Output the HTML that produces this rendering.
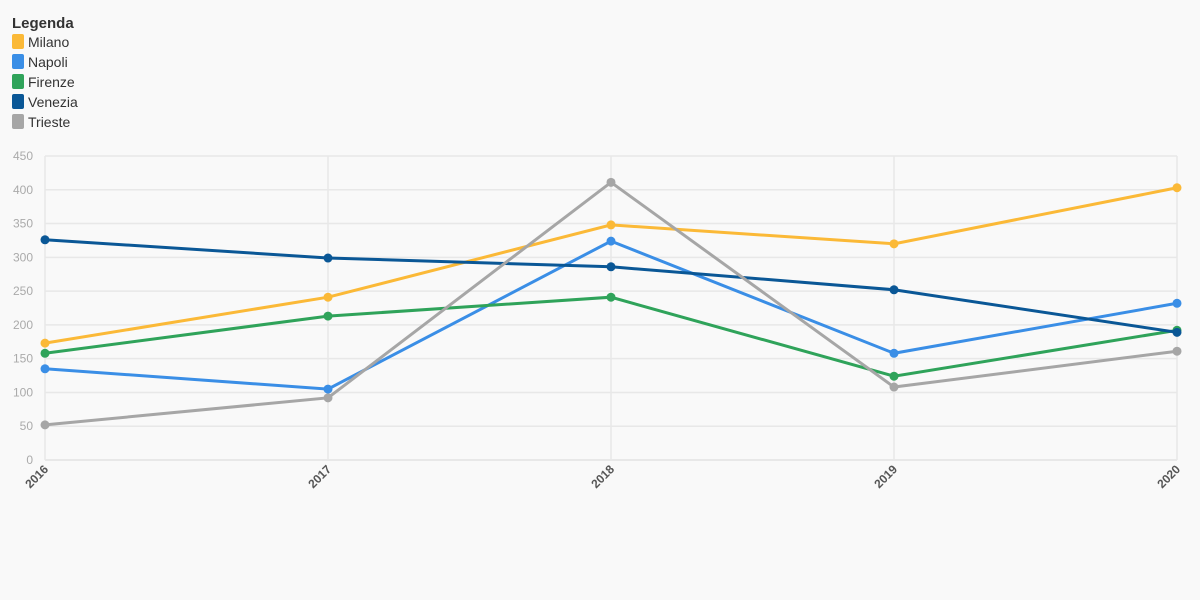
<!DOCTYPE html>
<html><head><meta charset="utf-8"><style>
body{margin:0;background:#f9f9f9;font-family:"Liberation Sans",sans-serif;}
svg{display:block}
</style></head><body>
<svg width="1200" height="600" id="chart">
<rect width="1200" height="600" fill="#f9f9f9"/>
<g id="legend">
<text x="12" y="28" font-size="15" font-weight="bold" fill="#333">Legenda</text>
</g>
<g id="grid"></g><g id="axes"></g><g id="series"></g>
</svg>
<script>
const years=["2016","2017","2018","2019","2020"];
const seriesNames=["Milano","Napoli","Firenze","Venezia","Trieste"];
const milano=[173,241,348,320,403];
const napoli=[135,105,324,158,232];
const firenze=[158,213,241,124,192];
const venezia=[326,299,286,252,189];
const trieste=[52,92,411,108,161];
const yTicks=[0,50,100,150,200,250,300,350,400,450];
const colors=["#fbb937","#3a8ee6","#2fa35a","#0a5796","#a6a6a6"];
const values=[milano,napoli,firenze,venezia,trieste];
const NS="http://www.w3.org/2000/svg";
const x0=45,x1=1177,y0=460,y1=156,yMax=450;
const xs=i=>x0+(x1-x0)*i/(years.length-1);
const ys=v=>y0-(y0-y1)*v/yMax;
function mk(t,a,p){const e=document.createElementNS(NS,t);for(const k in a)e.setAttribute(k,a[k]);p.appendChild(e);return e;}
const grid=document.getElementById('grid'),axes=document.getElementById('axes'),ser=document.getElementById('series'),leg=document.getElementById('legend');
yTicks.forEach(v=>{
 const l=mk('line',{x1:x0,x2:x1,y1:ys(v),y2:ys(v),stroke:'#e8e8e8','stroke-width':v===0?2:1.5},grid);
 
 
 const t=mk('text',{x:33,y:ys(v)+4,'text-anchor':'end','font-size':12,fill:'#aaa'},axes);
 t.textContent=v;
 
 
});
years.forEach((yr,i)=>{
 const l=mk('line',{x1:xs(i),x2:xs(i),y1:y1,y2:y0,stroke:'#e8e8e8','stroke-width':1.5},grid);
 
 
 const t=mk('text',{x:xs(i)+4,y:y0+10,'text-anchor':'end','font-size':12,'font-weight':'bold',fill:'#555',transform:`rotate(-45 ${xs(i)+4} ${y0+10})`},axes);
 t.textContent=yr;
 
 
});
values.forEach((arr,s)=>{
 const g=mk('g',{},ser);
 
 
 const p=mk('polyline',{points:arr.map((v,i)=>xs(i)+','+ys(v)).join(' '),fill:'none',stroke:colors[s],'stroke-width':3},g);
 
 
 arr.forEach((v,i)=>{
  const c=mk('circle',{cx:xs(i),cy:ys(v),r:4.5,fill:colors[s]},g);
  
  
 });
 const ly=34+20*s;
 const r=mk('rect',{x:12,y:ly,width:12,height:15,rx:2,fill:colors[s]},leg);
 
 
 const t=mk('text',{x:28,y:ly+13,'font-size':14,fill:'#333'},leg);
 t.textContent=seriesNames[s];
 
 
});
</script>
</body></html>
